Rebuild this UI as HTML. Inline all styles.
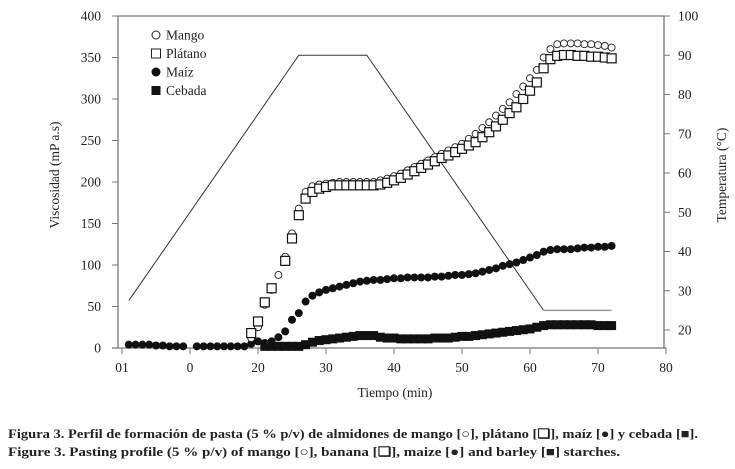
<!DOCTYPE html>
<html><head><meta charset="utf-8"><style>
body{margin:0;background:#fff;width:735px;height:464px;overflow:hidden}
svg text{font-family:"Liberation Serif",serif;fill:#222}
</style></head><body>
<svg width="735" height="464" viewBox="0 0 735 464" xmlns="http://www.w3.org/2000/svg">
<g id="axes"></g><g id="marks"></g>
<text x="8" y="438" font-size="13" font-weight="bold" textLength="690" lengthAdjust="spacingAndGlyphs">Figura 3.  Perfil de formación de pasta (5 % p/v) de almidones de mango [○], plátano [❏], maíz [●] y cebada [■].</text>
<text x="8" y="456" font-size="13" font-weight="bold" textLength="612" lengthAdjust="spacingAndGlyphs">Figure 3.  Pasting profile (5 % p/v) of mango [○], banana [❏], maize [●] and barley [■] starches.</text>
</svg>
<script>
const xTicks=[0,10,20,30,40,50,60,70,80];
const xTickLabels=["01","0","20","30","40","50","60","70","80"];
const yTicks=[0,50,100,150,200,250,300,350,400];
const tTicks=[20,30,40,50,60,70,80,90,100];
const tempT=[1,26,36,62];const tempV=[27.5,90,90,25];
const tempHoldT=[62,72];const tempHoldV=[25,25];
const mangoT=[19,20,21,22,23,24,25,26,27,28,29,30,31,32,33,34,35,36,37,38,39,40,41,42,43,44,45,46,47,48,49,50,51,52,53,54,55,56,57,58,59,60,61,62,63,64,65,66,67,68,69,70,71,72];
const mangoV=[12,25,52,70,88,110,138,168,188,195,197,198,199,200,200,200,200,200,200,202,204,207,210,214,218,222,226,230,234,238,242,246,252,258,265,272,280,288,296,306,315,325,335,350,360,366,367,367,367,366,366,365,364,362];
const platT=[19,20,21,22,24,25,26,27,28,29,30,31,32,33,34,35,36,37,38,39,40,41,42,43,44,45,46,47,48,49,50,51,52,53,54,55,56,57,58,59,60,61,62,63,64,65,66,67,68,69,70,71,72];
const platV=[18,32,55,72,105,132,160,180,188,192,194,196,196,196,196,196,196,196,197,199,202,205,209,213,217,221,225,229,232,236,240,244,248,254,260,267,275,283,290,300,310,320,337,348,352,353,353,352,352,351,351,350,349];
const maizT=[1,2,3,4,5,6,7,8,9,11,12,13,14,15,16,17,18,19,20,21,22,23,24,25,26,27,28,29,30,31,32,33,34,35,36,37,38,39,40,41,42,43,44,45,46,47,48,49,50,51,52,53,54,55,56,57,58,59,60,61,62,63,64,65,66,67,68,69,70,71,72];
const maizV=[4,4,4,4,3,3,2,2,2,2,2,2,2,2,2,2,2,5,8,6,8,13,20,34,42,56,63,67,70,72,74,76,78,80,81,82,82,83,84,84,85,85,85,85,86,86,87,88,88,89,90,92,94,96,99,101,103,106,109,112,116,118,119,119,119,120,121,121,122,122,123];
const cebT=[21,22,23,24,25,26,27,28,29,30,31,32,33,34,35,36,37,38,39,40,41,42,43,44,45,46,47,48,49,50,51,52,53,54,55,56,57,58,59,60,61,62,63,64,65,66,67,68,69,70,71,72];
const cebV=[2,2,2,2,2,2,4,7,9,10,11,12,13,14,15,15,15,13,12,12,11,11,11,11,11,12,12,12,13,14,14,15,16,17,18,19,20,21,22,23,25,27,28,28,28,28,28,28,28,27,27,27];
const NS="http://www.w3.org/2000/svg";
const X=v=>122+v*6.8, Y=v=>348-v*0.83, T=v=>16+(100-v)*3.925;
const axes=document.getElementById('axes'),marks=document.getElementById('marks');
function mk(tag,at,parent){const e=document.createElementNS(NS,tag);for(const k in at)e.setAttribute(k,at[k]);(parent||marks).appendChild(e);return e;}
const G="#777";
let e;
e=mk('path',{d:"M118 16V348M112 348H666M118 16H664M664 16V348",stroke:G,fill:"none","stroke-width":1.3},axes);

xTicks.forEach((v,i)=>{e=mk('line',{x1:X(v),x2:X(v),y1:348,y2:354,stroke:G},axes);

e=mk('text',{x:X(v),y:372,"font-size":13.5,"text-anchor":"middle"},axes);e.textContent=xTickLabels[i];
});
yTicks.forEach(v=>{e=mk('line',{x1:112,x2:118,y1:Y(v),y2:Y(v),stroke:G},axes);

e=mk('text',{x:101,y:Y(v)+4.5,"font-size":13.5,"text-anchor":"end"},axes);e.textContent=v;
});
tTicks.forEach(v=>{e=mk('line',{x1:664,x2:670,y1:T(v),y2:T(v),stroke:G},axes);

e=mk('text',{x:678,y:T(v)+4.5,"font-size":13.5},axes);e.textContent=v;
});
e=mk('text',{x:395,y:397,"font-size":13.5,"text-anchor":"middle"},axes);e.textContent="Tiempo (min)";

e=mk('text',{transform:"translate(59,175) rotate(-90)","font-size":13.5,"text-anchor":"middle"},axes);e.textContent="Viscosidad (mP a.s)";

e=mk('text',{transform:"translate(726,175) rotate(-90)","font-size":13.5,"text-anchor":"middle"},axes);e.textContent="Temperatura (°C)";

e=mk('polyline',{points:tempT.map((t,i)=>X(t)+","+T(tempV[i])).join(" "),fill:"none",stroke:"#333","stroke-width":1});

e=mk('polyline',{points:tempHoldT.map((t,i)=>X(t)+","+T(tempHoldV[i])).join(" "),fill:"none",stroke:"#999","stroke-width":1.5});

cebT.forEach((t,i)=>{e=mk('rect',{x:X(t)-4.5,y:Y(cebV[i])-4.5,width:9,height:9,fill:"#111"});
});
maizT.forEach((t,i)=>{e=mk('circle',{cx:X(t),cy:Y(maizV[i]),r:4,fill:"#111"});
});
mangoT.forEach((t,i)=>{e=mk('circle',{cx:X(t),cy:Y(mangoV[i]),r:3.5,fill:"#fff",stroke:"#222","stroke-width":0.9});
});
platT.forEach((t,i)=>{e=mk('rect',{x:X(t)-4.5,y:Y(platV[i])-4.5,width:9,height:9,fill:"#fff",stroke:"#111","stroke-width":1.2});
});
const leg=[["Mango","oc"],["Plátano","os"],["Maíz","fc"],["Cebada","fs"]];
leg.forEach((l,i)=>{const y=35+i*18.5;
if(l[1]=="oc")e=mk('circle',{cx:156,cy:y,r:4,fill:"#fff",stroke:"#222"});
if(l[1]=="os")e=mk('rect',{x:151.5,y:y-4.5,width:9,height:9,fill:"#fff",stroke:"#222"});
if(l[1]=="fc")e=mk('circle',{cx:156,cy:y,r:4.5,fill:"#111"});
if(l[1]=="fs")e=mk('rect',{x:151.5,y:y-4.5,width:9,height:9,fill:"#111"});

e=mk('text',{x:166,y:y+4.5,"font-size":13.5});e.textContent=l[0];
});
</script>
</body></html>
